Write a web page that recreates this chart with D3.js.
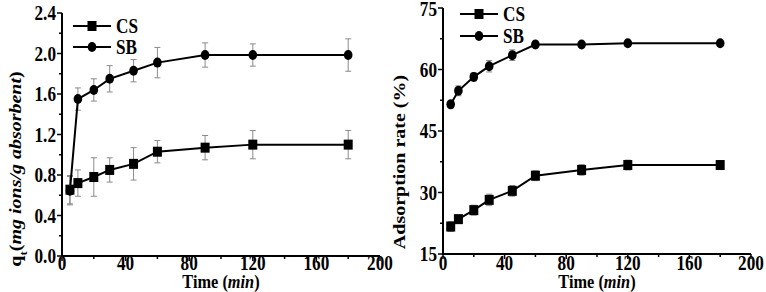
<!DOCTYPE html>
<html><head><meta charset="utf-8">
<script src="https://cdn.jsdelivr.net/npm/d3@7"></script>
<style>
body{margin:0;background:#fff;}
svg{display:block;}
text{font-family:"Liberation Serif","Times New Roman",serif;font-weight:bold;fill:#000;}
</style></head>
<body>
<svg id="c" width="766" height="292"></svg>
<script>
const times = [5,10,20,30,45,60,90,120,180];
const qCS = [0.655,0.72,0.78,0.85,0.91,1.03,1.07,1.10,1.10];
const qCSerr = [0.14,0.13,0.19,0.12,0.16,0.11,0.12,0.14,0.14];
const qSB = [0.645,1.55,1.64,1.75,1.83,1.91,1.985,1.985,1.985];
const qSBerr = [0.14,0.11,0.11,0.13,0.11,0.15,0.12,0.11,0.16];
const rateCS = [21.7,23.5,25.7,28.2,30.4,34.1,35.5,36.7,36.7];
const rateCSerr = [1.2,1.0,1.2,1.4,1.3,1.2,1.3,1.2,1.0];
const rateSB = [51.5,54.8,58.2,60.8,63.5,66.1,66.1,66.4,66.4];
const rateSBerr = [0.8,1.2,1.0,1.4,1.3,0.8,0.6,0.6,0.6];
const xTicks = [0,40,80,120,160,200];
const qTicks = [0.0,0.4,0.8,1.2,1.6,2.0,2.4];
const rateTicks = [15,30,45,60,75];
const seriesNames = ["CS","SB"];

const svg = d3.select("#c");
const SX = 0.86, FS = 19;

function htext(g, x, y, anchor, parts, size){
  const t = g.append("text").attr("transform",`translate(${x},${y}) scale(${SX},1)`)
    .attr("text-anchor",anchor).style("font-size",(size||FS)+"px");
  parts.forEach(p=>{
    const s=t.append("tspan").text(p.t);
    if(p.i) s.style("font-style","italic");
    if(p.sub) s.attr("baseline-shift","sub").style("font-size",((size||FS)*0.65)+"px");
  });
  return t;
}
function vtext(g, x, y, parts, size){
  const t = g.append("text").attr("transform",`translate(${x},${y}) scale(${SX},1) rotate(-90)`)
    .attr("text-anchor","middle").style("font-size",(size||FS)+"px");
  parts.forEach(p=>{
    const s=t.append("tspan").text(p.t);
    if(p.i) s.style("font-style","italic");
    if(p.sub) s.attr("baseline-shift","sub").style("font-size",((size||FS)*0.65)+"px");
  });
  return t;
}

function panel(cfg){
  const g = svg.append("g");
  const x = d3.scaleLinear().domain([0,200]).range(cfg.xr);
  const y = d3.scaleLinear().domain(cfg.yd).range(cfg.yr);
  const y0 = cfg.yr[0], x0 = cfg.xr[0];
  g.append("line").attr("x1",x0).attr("x2",x0).attr("y1",y0+1).attr("y2",cfg.yr[1]).attr("stroke","#000").attr("stroke-width",2);
  g.append("line").attr("x1",x0-1).attr("x2",cfg.xr[1]).attr("y1",y0).attr("y2",y0).attr("stroke","#000").attr("stroke-width",2);
  const xMinor = d3.range(0,201,20);
  xMinor.forEach(v=>{
    const major = xTicks.includes(v);
    g.append("line").attr("x1",x(v)).attr("x2",x(v)).attr("y1",y0).attr("y2",y0+(major?5:3)).attr("stroke","#000").attr("stroke-width",1.5);
  });
  xTicks.forEach(v=>htext(g, x(v), 270, "middle", [{t:String(v)}], 20));
  const step = cfg.yTicks[1]-cfg.yTicks[0];
  cfg.yTicks.forEach((v,i)=>{
    g.append("line").attr("x1",x0).attr("x2",x0-5).attr("y1",y(v)).attr("y2",y(v)).attr("stroke","#000").attr("stroke-width",1.5);
    if(i<cfg.yTicks.length-1){
      const m=v+step/2;
      g.append("line").attr("x1",x0).attr("x2",x0-3).attr("y1",y(m)).attr("y2",y(m)).attr("stroke","#000").attr("stroke-width",1.5);
    }
    htext(g, x0-6, Math.max(y(v)+7, 16), "end", [{t:cfg.fmt(v)}], 20);
  });
  const line = d3.line().x(d=>x(d[0])).y(d=>y(d[1]));
  cfg.series.forEach((s,si)=>{
    const pts = times.map((t,i)=>[t,s.v[i],s.e[i]]);
    pts.forEach(p=>{
      const xx=x(p[0]), a=y(p[1]-p[2]), b=y(p[1]+p[2]);
      g.append("line").attr("x1",xx).attr("x2",xx).attr("y1",a).attr("y2",b).attr("stroke","#8a8a8a").attr("stroke-width",1);
      [a,b].forEach(yy=>g.append("line").attr("x1",xx-3).attr("x2",xx+3).attr("y1",yy).attr("y2",yy).attr("stroke","#8a8a8a").attr("stroke-width",1));
    });
    g.append("path").datum(pts).attr("d",line).attr("fill","none").attr("stroke","#000").attr("stroke-width",2);
    pts.forEach(p=>marker(g, si, x(p[0]), y(p[1])));
  });
  cfg.legend.forEach((ly,si)=>{
    g.append("line").attr("x1",cfg.lx[0]).attr("x2",cfg.lx[1]).attr("y1",ly).attr("y2",ly).attr("stroke","#000").attr("stroke-width",2);
    marker(g, si, (cfg.lx[0]+cfg.lx[1])/2, ly);
    htext(g, cfg.lx[1]+5, ly+7, "start", [{t:seriesNames[si]}], 20);
  });
  return {g,x,y};
}
function marker(g, si, cx, cy){
  if(si===0) g.append("rect").attr("x",cx-4.5).attr("y",cy-5).attr("width",9).attr("height",10).attr("fill","#000");
  else g.append("ellipse").attr("cx",cx).attr("cy",cy).attr("rx",4.3).attr("ry",5).attr("fill","#000");
}

panel({xr:[62,380], yd:[0,2.4], yr:[256,13], yTicks:qTicks, fmt:d3.format(".1f"),
  series:[{v:qCS,e:qCSerr},{v:qSB,e:qSBerr}], legend:[26,47], lx:[73,111]});
panel({xr:[443,751], yd:[15,75], yr:[254,8], yTicks:rateTicks, fmt:d3.format("d"),
  series:[{v:rateCS,e:rateCSerr},{v:rateSB,e:rateSBerr}], legend:[14,36], lx:[460,498]});

htext(svg, 221, 288, "middle", [{t:"Time ("},{t:"min",i:true},{t:")"}], 19);
htext(svg, 597, 288, "middle", [{t:"Time ("},{t:"min",i:true},{t:")"}], 19);
vtext(svg, 21, 169, [{t:"q"},{t:"t",sub:true},{t:"("},{t:"mg ions/g absorbent",i:true},{t:")"}], 20);
vtext(svg, 405, 162, [{t:"Adsorption rate (%)"}], 20);
</script>
</body></html>
